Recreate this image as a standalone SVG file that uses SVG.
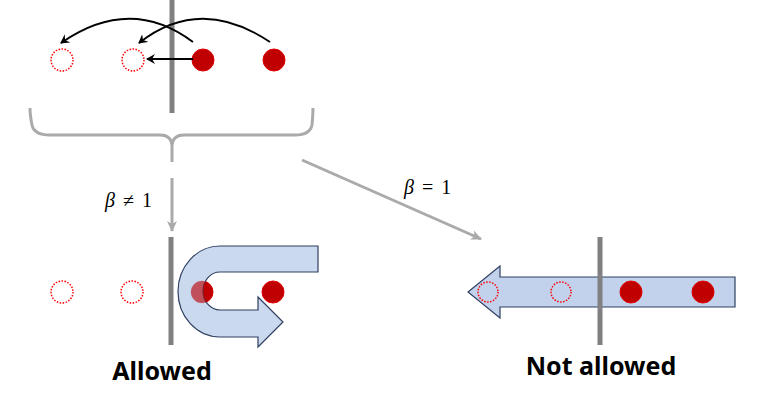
<svg xmlns="http://www.w3.org/2000/svg" width="763" height="405" viewBox="0 0 763 405">
<defs>
<marker id="ak" markerWidth="10" markerHeight="10" refX="8" refY="5" orient="auto" markerUnits="userSpaceOnUse"><path d="M0,0 L9,5 L0,10 L3,5 Z" fill="#000"/></marker>
<marker id="ag" markerWidth="12" markerHeight="12" refX="10" refY="6" orient="auto" markerUnits="userSpaceOnUse"><path d="M0,1 L11,6 L0,11 L3,6 Z" fill="#aaa"/></marker>
</defs>
<style>
.bar{stroke:#808080;stroke-width:5}
.ful{fill:#c00000;stroke:#e00000;stroke-width:1}
.dot{fill:none;stroke:#ff0000;stroke-width:1.5;stroke-dasharray:1.5 1.5}
.blk{fill:none;stroke:#000;stroke-width:1.8}
.gry{fill:none;stroke:#aaa;stroke-width:3}
.big{fill:#c2d2ec;stroke:#2f4060;stroke-width:1.2}
.lbl{font-family:"Noto Sans","Liberation Sans",sans-serif;font-size:25px;font-weight:bold}
.mth{font-family:"Liberation Serif",serif;font-size:20px;word-spacing:3px}
</style>
<g id="bars">
<line class="bar" x1="172" y1="0" x2="172" y2="113"/>
<line class="bar" x1="171" y1="237" x2="171" y2="345"/>
</g>
<g id="top-circles">
<circle class="dot" cx="62" cy="60" r="11"/>
<circle class="dot" cx="133" cy="60" r="11"/>
<circle class="ful" cx="203" cy="60" r="11"/>
<circle class="ful" cx="274" cy="60" r="11"/>
</g>
<g id="connectors">
<path class="blk" d="M193,42 Q130,-5 61,43" marker-end="url(#ak)"/>
<path class="blk" d="M270,42 Q200,-5 139,43" marker-end="url(#ak)"/>
<line class="blk" x1="193" y1="59" x2="147" y2="59" marker-end="url(#ak)"/>
<path class="gry" d="M30,108 Q30,115 32,125 Q34,135 50,135 L160,135 Q172,135 172,147 L172,162 M172,147 Q172,135 184,135 L295,135 Q310,135 312,125 Q313,115 313,108"/>
<line class="gry" x1="172" y1="178" x2="172" y2="231" marker-end="url(#ag)"/>
<line class="gry" x1="302" y1="160" x2="481" y2="239" marker-end="url(#ag)"/>
</g>
<g id="labels">
<text class="mth" x="105" y="207"><tspan font-style="italic">β</tspan> ≠ 1</text>
<text class="mth" x="404" y="194"><tspan font-style="italic">β</tspan> = 1</text>
<text class="lbl" x="162" y="380" text-anchor="middle">Allowed</text>
<text class="lbl" x="601" y="375" text-anchor="middle">Not allowed</text>
</g>
<g id="allowed">
<circle class="dot" cx="62" cy="292" r="11"/>
<circle class="dot" cx="132" cy="292" r="11"/>
<circle class="ful" cx="202" cy="292" r="11"/>
<circle class="ful" cx="273" cy="292" r="11"/>
<path class="big" fill-opacity="0.85" d="M318,246 L220,246 A42,45.5 0 0 0 220,337 L258,337 L258,347 L283,322 L258,297 L258,310 L220,310 A17,19 0 0 1 220,272 L318,272 Z"/>
<circle cx="202" cy="292" r="11" fill="#c00000" fill-opacity="0.55"/>
</g>
<g id="not-allowed">
<path class="big" d="M735,277 L500,277 L500,266 L468,292 L500,318 L500,307 L735,307 Z"/>
<line class="bar" x1="600" y1="237" x2="600" y2="345"/>
<circle class="dot" cx="488" cy="292" r="10"/>
<circle class="dot" cx="561" cy="292" r="10"/>
<circle class="ful" cx="631" cy="292" r="11"/>
<circle class="ful" cx="703" cy="292" r="11"/>
</g>
</svg>
